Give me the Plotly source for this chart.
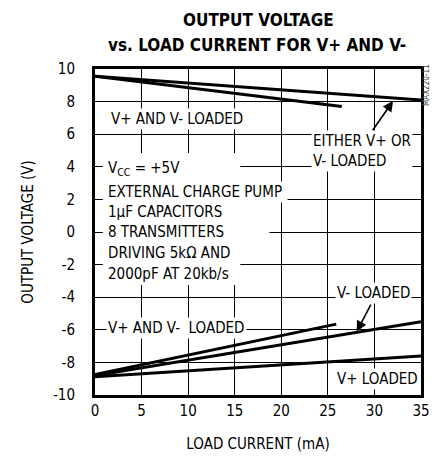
import plotly.graph_objects as go

# Data (load current in mA, output voltage in V)
either_pos_x = [0, 35]
either_pos_y = [9.55, 8.1]
both_pos_x = [0, 26.5]
both_pos_y = [9.55, 7.7]
both_neg_x = [0, 25.9]
both_neg_y = [-8.75, -5.65]
either_neg_x = [0, 35]
either_neg_y = [-8.8, -5.5]
vplus_loaded_x = [0, 35]
vplus_loaded_y = [-8.88, -7.6]

x_ticks = [0, 5, 10, 15, 20, 25, 30, 35]
y_ticks = [10, 8, 6, 4, 2, 0, -2, -4, -6, -8, -10]
y_tick_labels = ["10", "8", "6", "4", "2", "0", "-2", "-4", "-6", "-8", "-10"]

FONT = "Liberation Sans Narrow, DejaVu Sans Condensed, Arial Narrow, sans-serif"

fig = go.Figure()
for xs, ys in [(either_pos_x, either_pos_y), (both_pos_x, both_pos_y),
               (both_neg_x, both_neg_y), (either_neg_x, either_neg_y),
               (vplus_loaded_x, vplus_loaded_y)]:
    fig.add_trace(go.Scatter(x=xs, y=ys, mode="lines",
                             line=dict(color="black", width=3),
                             showlegend=False, hoverinfo="skip"))

fig.update_layout(
    width=432, height=458,
    margin=dict(l=95, r=11, t=69, b=63, autoexpand=False),
    paper_bgcolor="white", plot_bgcolor="white",
    font=dict(family=FONT, size=15, color="black"),
    showlegend=False,
)
fig.update_xaxes(range=[0, 35], tickvals=x_ticks, ticks="", showgrid=True,
                 automargin=False,
                 gridcolor="black", gridwidth=1, zeroline=False,
                 showline=True, linecolor="black", linewidth=3, mirror=True,
                 title=dict(text="LOAD CURRENT (mA)", standoff=20,
                            font=dict(size=15)),
                 tickfont=dict(size=15))
fig.update_yaxes(range=[-10, 10], tickvals=y_ticks, ticktext=y_tick_labels,
                 ticks="", showgrid=True,
                 automargin=False, ticklabelstandoff=14,
                 gridcolor="black", gridwidth=1, zeroline=False,
                 showline=True, linecolor="black", linewidth=3, mirror=True,
                 title=dict(text="OUTPUT VOLTAGE (V)", standoff=16,
                            font=dict(size=15)),
                 tickfont=dict(size=15))

# title lines
fig.add_annotation(text="<b>OUTPUT VOLTAGE</b>", xref="paper", yref="paper",
                   x=0.503, y=1.150, xanchor="center", yanchor="middle",
                   showarrow=False, font=dict(family=FONT, size=17, color="black"))
fig.add_annotation(text="<b>vs. LOAD CURRENT FOR V+ AND V-</b>", xref="paper", yref="paper",
                   x=0.498, y=1.0736, xanchor="center", yanchor="middle",
                   showarrow=False, font=dict(family=FONT, size=17, color="black"))

# white box behind the conditions text block
fig.add_shape(type="rect", xref="x", yref="y", x0=0.85, x1=15.6, y0=-3.25, y1=4.85,
              fillcolor="white", line=dict(width=0), layer="between")

def label(text, x, y, xanchor="left", width=None, bg="white"):
    fig.add_annotation(text=text, x=x, y=y, xref="x", yref="y",
                       xanchor=xanchor, yanchor="middle", showarrow=False,
                       bgcolor=bg, borderpad=1, align="left", width=width,
                       font=dict(family=FONT, size=15, color="black"))

label("V+ AND V- LOADED", 1.5, 6.95)
label("EITHER V+ OR<br>V- LOADED", 23.2, 5.0)
label("V<sub>CC</sub> = +5V", 1.2, 3.9)
label("EXTERNAL CHARGE PUMP", 1.2, 2.45, width=178)
label("1µF CAPACITORS", 1.2, 1.2)
label("8 TRANSMITTERS", 1.2, -0.0, width=160)
label("DRIVING 5kΩ AND", 1.2, -1.3, width=145)
label("2000pF AT 20kb/s", 1.2, -2.55)
label("V- LOADED", 25.8, -3.75)
label("V+ AND V-  LOADED", 1.2, -5.9)
label("V+ LOADED", 25.8, -9.0)

# arrows
fig.add_annotation(x=32.0, y=8.04, ax=29.7, ay=6.15, xref="x", yref="y",
                   axref="x", ayref="y", text="", showarrow=True,
                   arrowhead=2, arrowsize=1.3, arrowwidth=1.6, arrowcolor="black")
fig.add_annotation(x=28.1, y=-6.1, ax=29.7, ay=-4.37, xref="x", yref="y",
                   axref="x", ayref="y", text="", showarrow=True,
                   arrowhead=2, arrowsize=1.3, arrowwidth=1.6, arrowcolor="black")

# part number tag
fig.add_annotation(text="MAX220-11", xref="paper", yref="paper",
                   x=(426 - 95) / 326, y=1 - (85 - 69) / 326,
                   xanchor="center", yanchor="middle",
                   showarrow=False, textangle=-90,
                   font=dict(family=FONT, size=8, color="#444"))

fig.write_html("out.html",
               config={"displayModeBar": False},
               post_script="document.body.style.margin='0';"
                           "document.body.style.overflow='hidden';")
